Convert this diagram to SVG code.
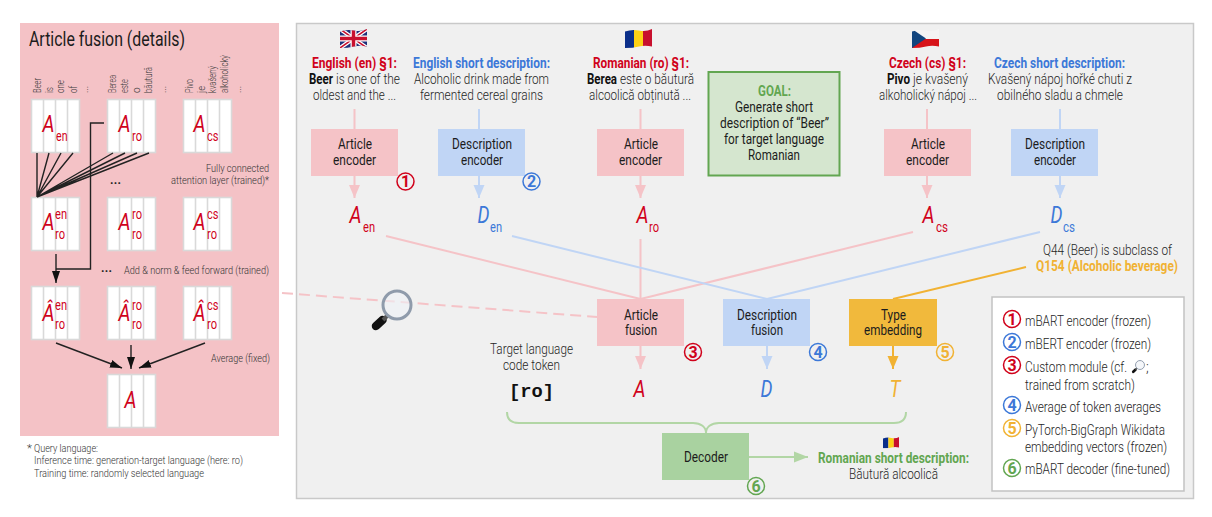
<svg xmlns="http://www.w3.org/2000/svg" xmlns:xlink="http://www.w3.org/1999/xlink" width="1212" height="517" viewBox="0 0 1212 517">
<style>
text{font-family:Roboto,"Liberation Sans",sans-serif;font-size:14px;fill:#333}
.l{font-weight:300;fill:#262626}
.d{fill:#1c1c1c;font-size:14px}
.b{font-weight:700}
.red{fill:#d0021b}.blue{fill:#3c78d8}.or{fill:#f1b233}.gr{fill:#62a651}
.big{font-style:italic;font-size:23px}
.sub{font-size:14.5px}
.s{font-size:11.5px;font-weight:300;fill:#333}
.w{font-size:10px;font-weight:300;fill:#3a3a3a}
.num{font-size:16px;font-weight:700;text-anchor:middle}
.pk{fill:#f5c3c7}.bl{fill:#c0d5f5}
.cn{fill:none;stroke-width:2}
.cr{fill:none;stroke-width:1.5}
.pl{stroke:#f5c3c7}.bll{stroke:#c0d5f5}.ol{stroke:#f1b233}.gl{stroke:#b2d6a5}
.k{stroke:#222;stroke-width:1.4;fill:none}
</style>
<defs>
<marker id="hp" markerUnits="userSpaceOnUse" markerWidth="13" markerHeight="12" refX="13" refY="6" viewBox="0 0 13 12" orient="auto"><path d="M0 .5L13 6 0 11.500z" fill="#f5c3c7"/></marker>
<marker id="hb" markerUnits="userSpaceOnUse" markerWidth="13" markerHeight="12" refX="13" refY="6" viewBox="0 0 13 12" orient="auto"><path d="M0 .5L13 6 0 11.500z" fill="#c0d5f5"/></marker>
<marker id="ho" markerUnits="userSpaceOnUse" markerWidth="13" markerHeight="12" refX="13" refY="6" viewBox="0 0 13 12" orient="auto"><path d="M0 .5L13 6 0 11.500z" fill="#f1b233"/></marker>
<marker id="hg" markerUnits="userSpaceOnUse" markerWidth="14" markerHeight="12" refX="14" refY="6" viewBox="0 0 14 12" orient="auto"><path d="M0 .5L14 6 0 11.500z" fill="#b2d6a5"/></marker>
<marker id="hk" markerUnits="userSpaceOnUse" markerWidth="12" markerHeight="8" refX="12" refY="4" viewBox="0 0 12 8" orient="auto"><path d="M0 0L12 4 0 8z" fill="#111"/></marker>
<clipPath id="wave"><path d="M0 2.500Q7 0 14 1.500T27 0V17.500Q20 16 14 17.500T0 19z"/></clipPath>
<g id="mx"><rect x=".5" y=".5" width="48" height="53" fill="#fff" stroke="#d9d9d9" stroke-width="1.6"/><path d="M12.500 .5V53.500M24.500 .5V53.500M36.500 .5V53.500" stroke="#d9d9d9" stroke-width="1.6"/></g>
<g id="ro"><g clip-path="url(#wave)"><rect width="9" height="19" fill="#0b2f8a"/><rect x="9" width="9" height="19" fill="#fcd116"/><rect x="18" width="9" height="19" fill="#c8102e"/></g></g>
<g id="mag"><path d="M-14.500 15L-21 21" stroke="#111" stroke-width="8.500" stroke-linecap="round"/><path d="M-9 10L-14 15" stroke="#555" stroke-width="4"/><circle r="14" fill="#eef2f6" fill-opacity=".6" stroke="#8f9bab" stroke-width="3"/></g>
</defs>

<rect id="panel-left" x="20" y="23" width="259" height="413" fill="#f4c2c6"/>
<rect id="panel-main" x="296.500" y="23.500" width="897" height="475" fill="#f0f0f0" stroke="#c9c9c9" stroke-width="1.500"/>

<g id="article-fusion-details">
<text x="29" y="46" style="font-size:19.500px;fill:#1c1c1c" textLength="156" lengthAdjust="spacingAndGlyphs">Article fusion (details)</text>
<g class="words">
<text class="w" transform="translate(41,93) rotate(-90)" textLength="15" lengthAdjust="spacingAndGlyphs">Beer</text>
<text class="w" transform="translate(53,93) rotate(-90)" textLength="6" lengthAdjust="spacingAndGlyphs">is</text>
<text class="w" transform="translate(64,93) rotate(-90)" textLength="13" lengthAdjust="spacingAndGlyphs">one</text>
<text class="w" transform="translate(77,93) rotate(-90)" textLength="7" lengthAdjust="spacingAndGlyphs">of</text>
<text class="w" transform="translate(88,93) rotate(-90)">...</text>
<text class="w" transform="translate(116,93) rotate(-90)" textLength="18" lengthAdjust="spacingAndGlyphs">Berea</text>
<text class="w" transform="translate(128,93) rotate(-90)" textLength="14" lengthAdjust="spacingAndGlyphs">este</text>
<text class="w" transform="translate(140,93) rotate(-90)">o</text>
<text class="w" transform="translate(152,93) rotate(-90)" textLength="26" lengthAdjust="spacingAndGlyphs">băutură</text>
<text class="w" transform="translate(166,93) rotate(-90)">...</text>
<text class="w" transform="translate(193,93) rotate(-90)" textLength="14" lengthAdjust="spacingAndGlyphs">Pivo</text>
<text class="w" transform="translate(205,93) rotate(-90)" textLength="7" lengthAdjust="spacingAndGlyphs">je</text>
<text class="w" transform="translate(216,93) rotate(-90)" textLength="27" lengthAdjust="spacingAndGlyphs">kvašený</text>
<text class="w" transform="translate(228,93) rotate(-90)" textLength="38" lengthAdjust="spacingAndGlyphs">alkoholický</text>
<text class="w" transform="translate(241,93) rotate(-90)">...</text>
</g>
<use xlink:href="#mx" href="#mx" x="31" y="99"/><use xlink:href="#mx" href="#mx" x="107" y="99"/><use xlink:href="#mx" href="#mx" x="183" y="99"/>
<use xlink:href="#mx" href="#mx" x="31" y="197"/><use xlink:href="#mx" href="#mx" x="107" y="197"/><use xlink:href="#mx" href="#mx" x="183" y="197"/>
<use xlink:href="#mx" href="#mx" x="31" y="286"/><use xlink:href="#mx" href="#mx" x="107" y="286"/><use xlink:href="#mx" href="#mx" x="183" y="286"/>
<use xlink:href="#mx" href="#mx" x="107" y="374"/>

<g class="red-labels">
<text class="big red" x="42.500" y="132" textLength="12" lengthAdjust="spacingAndGlyphs">A</text><text class="sub red" x="56" y="141" textLength="11.500" lengthAdjust="spacingAndGlyphs">en</text>
<text class="big red" x="118.500" y="132" textLength="12" lengthAdjust="spacingAndGlyphs">A</text><text class="sub red" x="132" y="141" textLength="10" lengthAdjust="spacingAndGlyphs">ro</text>
<text class="big red" x="193.500" y="132" textLength="12" lengthAdjust="spacingAndGlyphs">A</text><text class="sub red" x="207" y="141" textLength="11.500" lengthAdjust="spacingAndGlyphs">cs</text>

<text class="big red" x="42.500" y="230" textLength="12" lengthAdjust="spacingAndGlyphs">A</text><text class="sub red" x="55" y="219" textLength="12" lengthAdjust="spacingAndGlyphs">en</text><text class="sub red" x="55" y="239" textLength="10" lengthAdjust="spacingAndGlyphs">ro</text>
<text class="big red" x="118.500" y="230" textLength="12" lengthAdjust="spacingAndGlyphs">A</text><text class="sub red" x="132" y="219" textLength="10" lengthAdjust="spacingAndGlyphs">ro</text><text class="sub red" x="132" y="239" textLength="10" lengthAdjust="spacingAndGlyphs">ro</text>
<text class="big red" x="193.500" y="230" textLength="12" lengthAdjust="spacingAndGlyphs">A</text><text class="sub red" x="207" y="219" textLength="11.500" lengthAdjust="spacingAndGlyphs">cs</text><text class="sub red" x="207" y="239" textLength="10" lengthAdjust="spacingAndGlyphs">ro</text>

<text class="big red" x="42.500" y="321" textLength="12" lengthAdjust="spacingAndGlyphs">Â</text><text class="sub red" x="55" y="310" textLength="12" lengthAdjust="spacingAndGlyphs">en</text><text class="sub red" x="55" y="329" textLength="10" lengthAdjust="spacingAndGlyphs">ro</text>
<text class="big red" x="118.500" y="321" textLength="12" lengthAdjust="spacingAndGlyphs">Â</text><text class="sub red" x="132" y="310" textLength="10" lengthAdjust="spacingAndGlyphs">ro</text><text class="sub red" x="132" y="329" textLength="10" lengthAdjust="spacingAndGlyphs">ro</text>
<text class="big red" x="193.500" y="321" textLength="12" lengthAdjust="spacingAndGlyphs">Â</text><text class="sub red" x="207" y="310" textLength="11.500" lengthAdjust="spacingAndGlyphs">cs</text><text class="sub red" x="207" y="329" textLength="10" lengthAdjust="spacingAndGlyphs">ro</text>

<text class="big red" x="124.500" y="408" textLength="12" lengthAdjust="spacingAndGlyphs">A</text>
</g>

<text class="s" x="206" y="172" textLength="63" lengthAdjust="spacingAndGlyphs">Fully connected</text>
<text class="s" x="171" y="184" textLength="98" lengthAdjust="spacingAndGlyphs">attention layer (trained)*</text>
<text class="s" x="124" y="274" textLength="145" lengthAdjust="spacingAndGlyphs">Add &amp; norm &amp; feed forward (trained)</text>
<text class="s" x="211" y="362" textLength="59" lengthAdjust="spacingAndGlyphs">Average (fixed)</text>
<text class="b" x="110" y="184" style="font-size:12px;fill:#222" textLength="11">...</text>
<text class="b" x="101" y="272" style="font-size:12px;fill:#222" textLength="11">...</text>
</g>

<g id="footnote">
<text class="s" x="27" y="452">*</text>
<text class="s" x="34" y="452" textLength="64" lengthAdjust="spacingAndGlyphs">Query language:</text>
<text class="s" x="34" y="464" textLength="209" lengthAdjust="spacingAndGlyphs">Inference time: generation-target language (here: ro)</text>
<text class="s" x="34" y="477" textLength="170" lengthAdjust="spacingAndGlyphs">Training time: randomly selected language</text>
</g>

<g id="connectors">
<g class="detail-links">
<path class="k" d="M37 153L37 197M49 153L37 197M61 153L37 197M73 153L37 197M113 153L37 197M125 153L37 197M137 153L37 197M149 153L37 197"/>
<path class="k" d="M104 123H90.500V269H56"/>
<path class="k" d="M56 254V283" marker-end="url(#hk)"/>
<path class="k" d="M56 343L122 368" marker-end="url(#hk)"/>
<path class="k" d="M131 345V369" marker-end="url(#hk)"/>
<path class="k" d="M205 343L139 368" marker-end="url(#hk)"/>
</g>
<path class="cn pl" d="M354.500 109V129"/>
<path class="cn pl" d="M354.500 176V198" marker-end="url(#hp)"/>
<path class="cn bll" d="M479 109V129"/>
<path class="cn bll" d="M479 176V198" marker-end="url(#hb)"/>
<path class="cn pl" d="M640.500 109V129"/>
<path class="cn pl" d="M640.500 176V198" marker-end="url(#hp)"/>
<path class="cn pl" d="M927 109V129"/>
<path class="cn pl" d="M927 176V198" marker-end="url(#hp)"/>
<path class="cn bll" d="M1060 109V129"/>
<path class="cn bll" d="M1060 176V198" marker-end="url(#hb)"/>
<path class="cn pl" d="M386 236L640.500 299"/>
<path class="cn pl" d="M640.500 239V299"/>
<path class="cn pl" d="M913 232L640.500 299"/>
<path class="cn bll" d="M512 236L767 299"/>
<path class="cn bll" d="M1040 232L767 299"/>
<path class="cn ol" d="M1026 267L893 299"/>
<path class="cn pl" d="M282 293L597 317" stroke-dasharray="11 6"/>
<path class="cn pl" d="M640.500 346V369" marker-end="url(#hp)"/>
<path class="cn bll" d="M767 346V369" marker-end="url(#hb)"/>
<path class="cn ol" d="M893 346V369" marker-end="url(#ho)"/>
<path class="cn gl" d="M507 412C507 419 511 423 519 423H693C701 423 706 427 706 433C706 427 711 423 719 423H894C902 423 906 419 906 412"/>
<path class="cn gl" d="M749 457H808" marker-end="url(#hg)"/>
</g>

<g id="magnifier"><use xlink:href="#mag" href="#mag" x="397" y="305"/></g>

<g id="src-en">
<g id="flag-en" transform="translate(340,29)"><g clip-path="url(#wave)"><rect width="27" height="19" fill="#20307a"/><path d="M0 0L27 19M27 0L0 19" stroke="#fff" stroke-width="4"/><path d="M0 0L27 19M27 0L0 19" stroke="#c8102e" stroke-width="1.500"/><path d="M13.500 0V19M0 9.500H27" stroke="#fff" stroke-width="6"/><path d="M13.500 0V19M0 9.500H27" stroke="#c8102e" stroke-width="3.500"/></g></g>
<text class="b red" x="312" y="68" textLength="85" lengthAdjust="spacingAndGlyphs">English (en) §1:</text>
<text class="b" x="309" y="84" style="fill:#111" textLength="24" lengthAdjust="spacingAndGlyphs">Beer</text><text class="l" x="336" y="84" textLength="64" lengthAdjust="spacingAndGlyphs">is one of the</text>
<text class="l" x="313" y="100" textLength="83" lengthAdjust="spacingAndGlyphs">oldest and the ...</text>
</g>
<g id="src-en-desc">
<text class="b blue" x="413" y="68" textLength="137" lengthAdjust="spacingAndGlyphs">English short description:</text>
<text class="l" x="414" y="84" textLength="135" lengthAdjust="spacingAndGlyphs">Alcoholic drink made from</text>
<text class="l" x="420" y="100" textLength="123" lengthAdjust="spacingAndGlyphs">fermented cereal grains</text>
</g>
<g id="src-ro">
<use xlink:href="#ro" href="#ro" x="625" y="29"/>
<text class="b red" x="593" y="68" textLength="96" lengthAdjust="spacingAndGlyphs">Romanian (ro) §1:</text>
<text class="b" x="587" y="84" style="fill:#111" textLength="30" lengthAdjust="spacingAndGlyphs">Berea</text><text class="l" x="620" y="84" textLength="74" lengthAdjust="spacingAndGlyphs">este o băutură</text>
<text class="l" x="589" y="100" textLength="102" lengthAdjust="spacingAndGlyphs">alcoolică obținută ...</text>
</g>
<g id="src-cs">
<g id="flag-cs" transform="translate(912,29)"><g clip-path="url(#wave)"><rect width="27" height="10" fill="#f4f4f4"/><rect y="10" width="27" height="9" fill="#d7141a"/><path d="M0 0L14 9.500 0 19z" fill="#11457e"/></g></g>
<text class="b red" x="889" y="68" textLength="77" lengthAdjust="spacingAndGlyphs">Czech (cs) §1:</text>
<text class="b" x="887" y="84" style="fill:#111" textLength="23" lengthAdjust="spacingAndGlyphs">Pivo</text><text class="l" x="913" y="84" textLength="55" lengthAdjust="spacingAndGlyphs">je kvašený</text>
<text class="l" x="879" y="100" textLength="98" lengthAdjust="spacingAndGlyphs">alkoholický nápoj ...</text>
</g>
<g id="src-cs-desc">
<text class="b blue" x="994" y="68" textLength="131" lengthAdjust="spacingAndGlyphs">Czech short description:</text>
<text class="l" x="988" y="84" textLength="144" lengthAdjust="spacingAndGlyphs">Kvašený nápoj hořké chuti z</text>
<text class="l" x="997" y="100" textLength="126" lengthAdjust="spacingAndGlyphs">obilného sladu a chmele</text>
</g>

<g id="enc-article-en"><rect class="pk" x="311" y="129" width="87" height="47"/>
<text class="d" x="338" y="149" textLength="34" lengthAdjust="spacingAndGlyphs">Article</text><text class="d" x="333" y="165" textLength="43" lengthAdjust="spacingAndGlyphs">encoder</text></g>
<g id="enc-desc-en"><rect class="bl" x="438" y="129" width="87" height="47"/>
<text class="d" x="452" y="149" textLength="60" lengthAdjust="spacingAndGlyphs">Description</text><text class="d" x="461" y="165" textLength="42" lengthAdjust="spacingAndGlyphs">encoder</text></g>
<g id="enc-article-ro"><rect class="pk" x="597" y="129" width="87" height="47"/>
<text class="d" x="624" y="149" textLength="34" lengthAdjust="spacingAndGlyphs">Article</text><text class="d" x="619" y="165" textLength="43" lengthAdjust="spacingAndGlyphs">encoder</text></g>
<g id="enc-article-cs"><rect class="pk" x="884" y="129" width="87" height="47"/>
<text class="d" x="911" y="149" textLength="34" lengthAdjust="spacingAndGlyphs">Article</text><text class="d" x="906" y="165" textLength="43" lengthAdjust="spacingAndGlyphs">encoder</text></g>
<g id="enc-desc-cs"><rect class="bl" x="1011" y="129" width="87" height="47"/>
<text class="d" x="1025" y="149" textLength="60" lengthAdjust="spacingAndGlyphs">Description</text><text class="d" x="1034" y="165" textLength="42" lengthAdjust="spacingAndGlyphs">encoder</text></g>

<g id="goal"><rect x="708.500" y="72" width="131" height="103.500" fill="#d5e6cf" stroke="#62a651" stroke-width="2"/>
<text class="b gr" x="758" y="96" textLength="33" lengthAdjust="spacingAndGlyphs">GOAL:</text>
<text class="d" x="735" y="112" textLength="78" lengthAdjust="spacingAndGlyphs">Generate short</text>
<text class="d" x="720" y="128" textLength="109" lengthAdjust="spacingAndGlyphs">description of “Beer”</text>
<text class="d" x="724" y="144" textLength="100" lengthAdjust="spacingAndGlyphs">for target language</text>
<text class="d" x="748" y="160" textLength="52" lengthAdjust="spacingAndGlyphs">Romanian</text></g>

<g id="vec-aen"><text class="big red" x="349.500" y="223" textLength="12" lengthAdjust="spacingAndGlyphs">A</text><text class="sub red" x="363" y="232" textLength="12" lengthAdjust="spacingAndGlyphs">en</text></g>
<g id="vec-den"><text class="big blue" x="477.500" y="223" textLength="12" lengthAdjust="spacingAndGlyphs">D</text><text class="sub blue" x="490" y="232" textLength="12" lengthAdjust="spacingAndGlyphs">en</text></g>
<g id="vec-aro"><text class="big red" x="636.500" y="223" textLength="12" lengthAdjust="spacingAndGlyphs">A</text><text class="sub red" x="649" y="232" textLength="10" lengthAdjust="spacingAndGlyphs">ro</text></g>
<g id="vec-acs"><text class="big red" x="922.500" y="223" textLength="12" lengthAdjust="spacingAndGlyphs">A</text><text class="sub red" x="936" y="232" textLength="12" lengthAdjust="spacingAndGlyphs">cs</text></g>
<g id="vec-dcs"><text class="big blue" x="1050.500" y="223" textLength="12" lengthAdjust="spacingAndGlyphs">D</text><text class="sub blue" x="1063" y="232" textLength="12" lengthAdjust="spacingAndGlyphs">cs</text></g>

<g id="q44"><text class="l" x="1043" y="255" textLength="129" lengthAdjust="spacingAndGlyphs">Q44 (Beer) is subclass of</text>
<text class="b or" x="1036" y="271" textLength="142" lengthAdjust="spacingAndGlyphs">Q154 (Alcoholic beverage)</text></g>

<g id="fusion-article"><rect class="pk" x="597" y="299" width="87" height="47"/>
<text class="d" x="624" y="320" textLength="34" lengthAdjust="spacingAndGlyphs">Article</text><text class="d" x="625" y="335" textLength="32" lengthAdjust="spacingAndGlyphs">fusion</text></g>
<g id="fusion-desc"><rect class="bl" x="723" y="299" width="87" height="47"/>
<text class="d" x="737" y="320" textLength="60" lengthAdjust="spacingAndGlyphs">Description</text><text class="d" x="751" y="335" textLength="32" lengthAdjust="spacingAndGlyphs">fusion</text></g>
<g id="type-embedding"><rect x="849" y="299" width="88" height="47" fill="#f1b93c"/>
<text class="d" x="881" y="320" textLength="25" lengthAdjust="spacingAndGlyphs">Type</text><text class="d" x="864" y="335" textLength="58" lengthAdjust="spacingAndGlyphs">embedding</text></g>

<g id="out-a"><text class="big red" x="633.500" y="397" textLength="12" lengthAdjust="spacingAndGlyphs">A</text></g>
<g id="out-d"><text class="big blue" x="760.500" y="397" textLength="12" lengthAdjust="spacingAndGlyphs">D</text></g>
<g id="out-t"><text class="big or" x="889.500" y="397" textLength="11" lengthAdjust="spacingAndGlyphs">T</text></g>

<g id="target-token">
<text class="l" x="490" y="354" textLength="83" lengthAdjust="spacingAndGlyphs">Target language</text>
<text class="l" x="503" y="370" textLength="57" lengthAdjust="spacingAndGlyphs">code token</text>
<text x="509" y="397" style='font-family:"Liberation Mono",monospace;font-weight:700;font-size:18.750px;fill:#111'>[ro]</text>
</g>

<g id="decoder"><rect x="662" y="433" width="87" height="47" fill="#a9d2a0"/>
<text class="d" x="684" y="462" textLength="44" lengthAdjust="spacingAndGlyphs">Decoder</text></g>

<g id="output">
<use xlink:href="#ro" href="#ro" transform="translate(883,437) scale(.6)"/>
<text class="b gr" x="818" y="463" textLength="151" lengthAdjust="spacingAndGlyphs">Romanian short description:</text>
<text class="l" x="849" y="479" textLength="89" lengthAdjust="spacingAndGlyphs">Băutură alcoolică</text>
</g>

<g id="badges">
<circle class="cr" cx="405.500" cy="181.500" r="8.500" stroke="#d0021b"/><text class="num red" x="405.500" y="187">1</text>
<circle class="cr" cx="531.500" cy="181.500" r="8.500" stroke="#3c78d8"/><text class="num blue" x="531.500" y="187">2</text>
<circle class="cr" cx="693" cy="352" r="8.500" stroke="#d0021b"/><text class="num red" x="693" y="357.500">3</text>
<circle class="cr" cx="818" cy="352" r="8.500" stroke="#3c78d8"/><text class="num blue" x="818" y="357.500">4</text>
<circle class="cr" cx="945" cy="352" r="8.500" stroke="#f1b233"/><text class="num or" x="945" y="357.500">5</text>
<circle class="cr" cx="756" cy="486" r="8.500" stroke="#62a651"/><text class="num gr" x="756" y="491.500">6</text>
</g>

<g id="legend">
<rect x="992" y="297" width="192" height="194" fill="#fff" stroke="#c2c2c2" stroke-width="1.500"/>
<circle class="cr" cx="1012" cy="319" r="8.500" stroke="#d0021b"/><text class="num red" x="1012" y="324.500">1</text>
<circle class="cr" cx="1012" cy="342" r="8.500" stroke="#3c78d8"/><text class="num blue" x="1012" y="347.500">2</text>
<circle class="cr" cx="1012" cy="365" r="8.500" stroke="#d0021b"/><text class="num red" x="1012" y="370.500">3</text>
<circle class="cr" cx="1012" cy="405" r="8.500" stroke="#3c78d8"/><text class="num blue" x="1012" y="410.500">4</text>
<circle class="cr" cx="1012" cy="428" r="8.500" stroke="#f1b233"/><text class="num or" x="1012" y="433.500">5</text>
<circle class="cr" cx="1012" cy="468" r="8.500" stroke="#62a651"/><text class="num gr" x="1012" y="473.500">6</text>
<text class="l" x="1025" y="326" textLength="126" lengthAdjust="spacingAndGlyphs">mBART encoder (frozen)</text>
<text class="l" x="1025" y="349" textLength="126" lengthAdjust="spacingAndGlyphs">mBERT encoder (frozen)</text>
<text class="l" x="1025" y="372" textLength="102" lengthAdjust="spacingAndGlyphs">Custom module (cf.</text>
<use xlink:href="#mag" href="#mag" transform="translate(1140,365) scale(.32)"/>
<text class="l" x="1146" y="372">;</text>
<text class="l" x="1025" y="390" textLength="110" lengthAdjust="spacingAndGlyphs">trained from scratch)</text>
<text class="l" x="1025" y="412" textLength="136" lengthAdjust="spacingAndGlyphs">Average of token averages</text>
<text class="l" x="1025" y="435" textLength="140" lengthAdjust="spacingAndGlyphs">PyTorch-BigGraph Wikidata</text>
<text class="l" x="1025" y="452" textLength="142" lengthAdjust="spacingAndGlyphs">embedding vectors (frozen)</text>
<text class="l" x="1025" y="474" textLength="145" lengthAdjust="spacingAndGlyphs">mBART decoder (fine-tuned)</text>
</g>
</svg>
